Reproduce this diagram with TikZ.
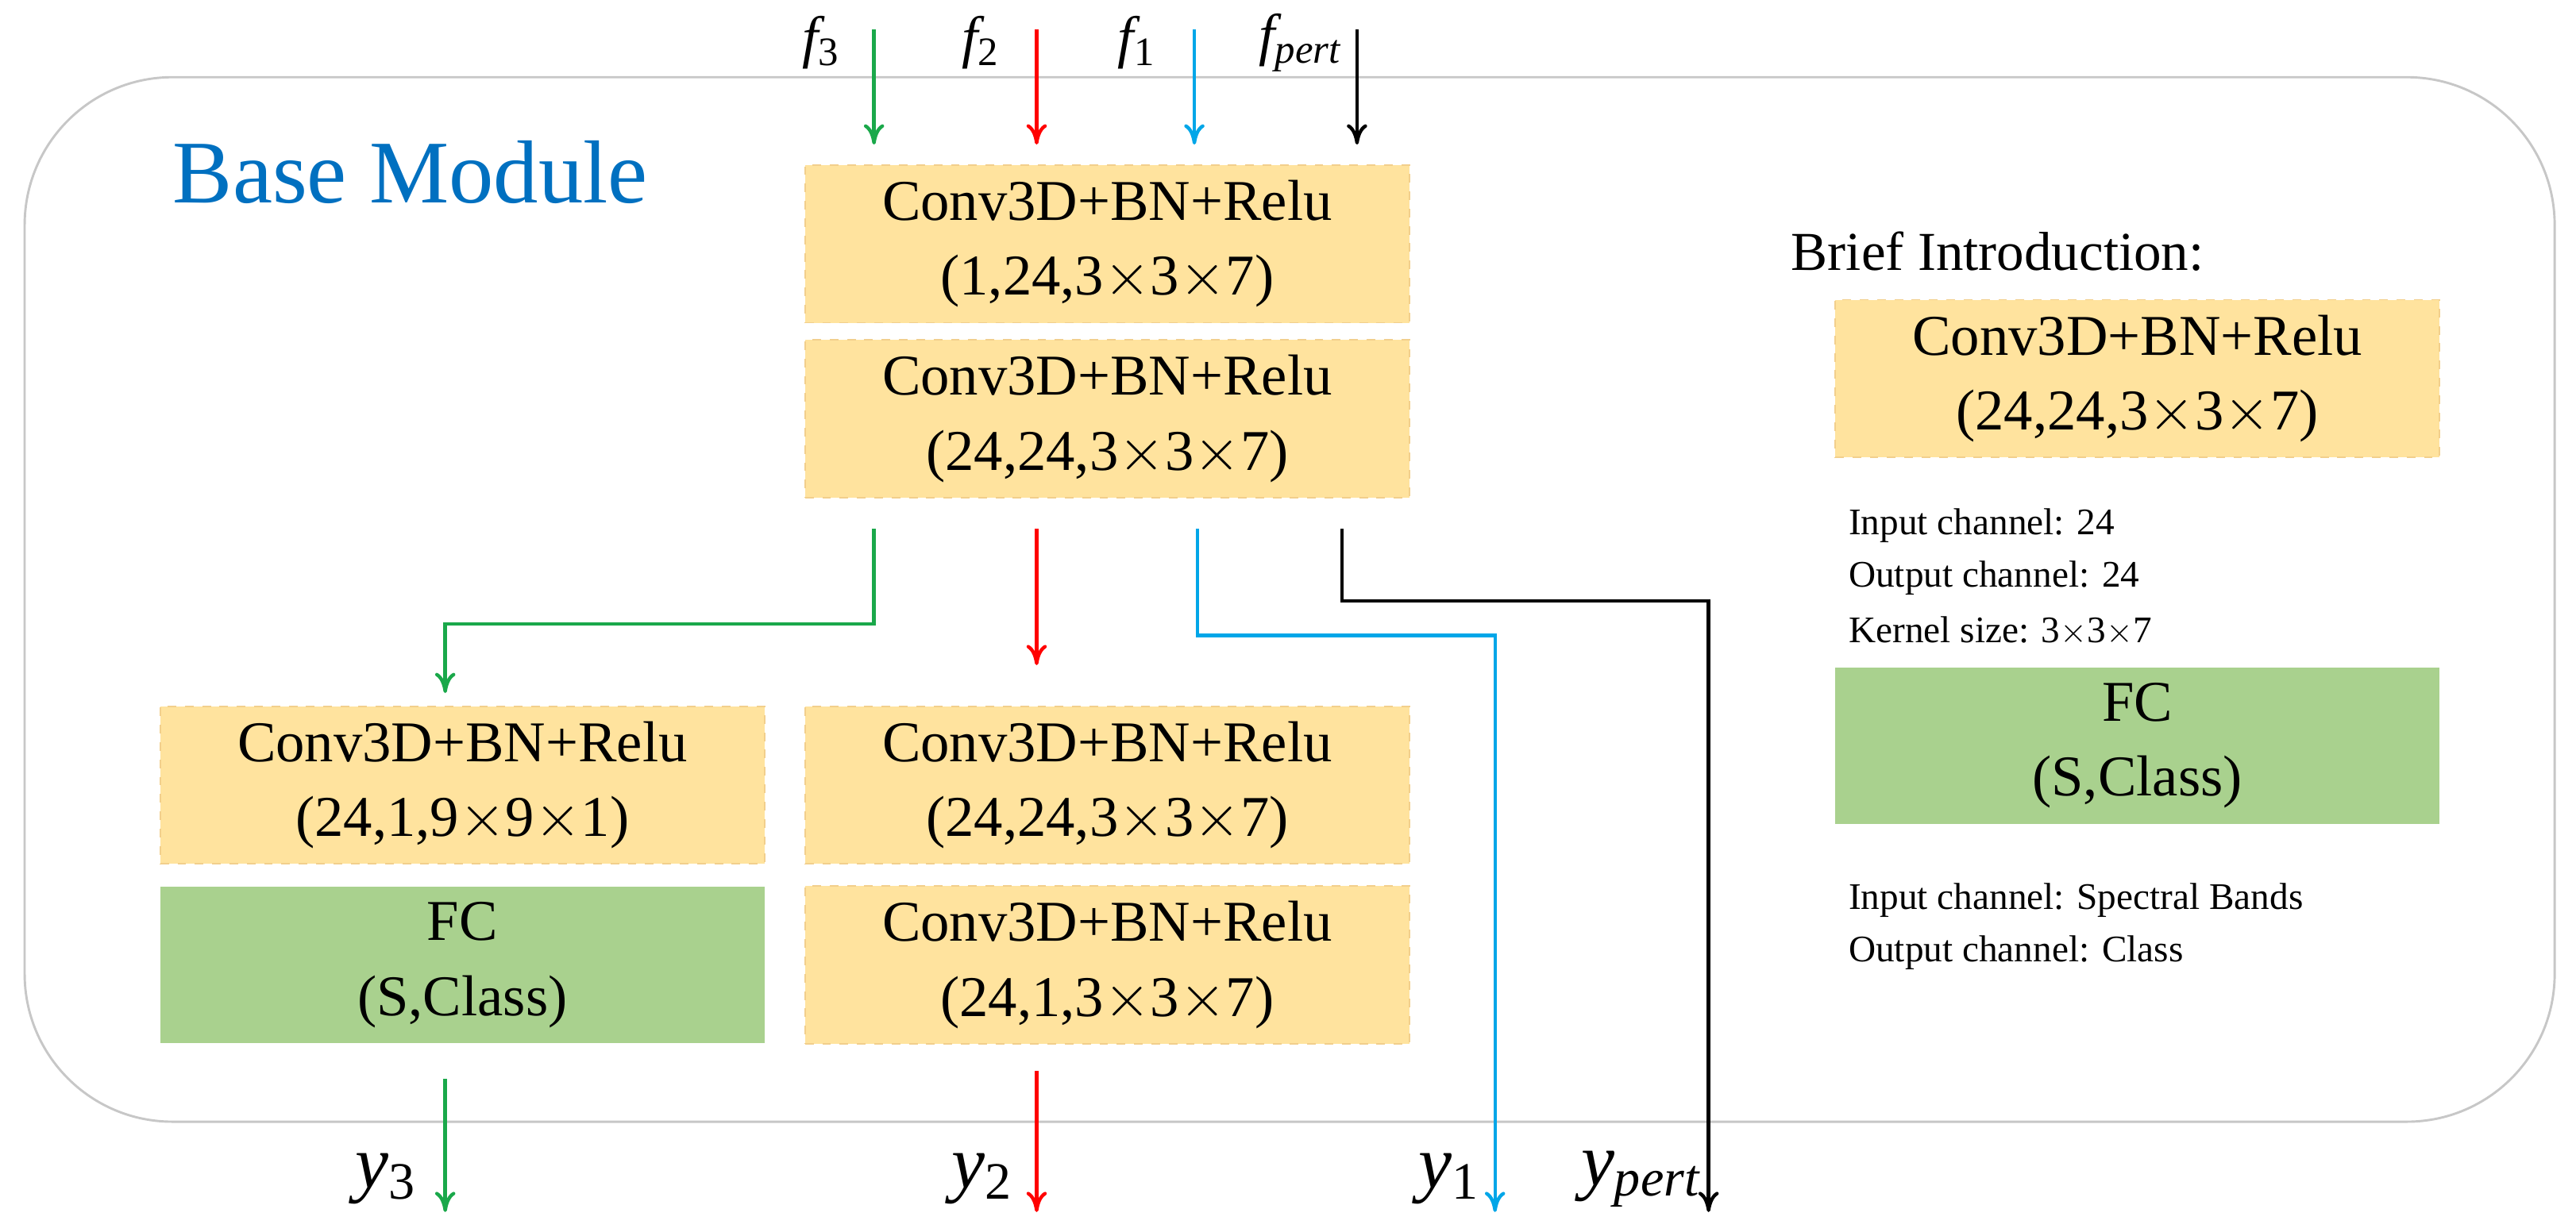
\documentclass[tikz,border=0pt]{standalone}
\usepackage{fontspec}
\setmainfont{Liberation Serif}
\usetikzlibrary{arrows.meta}
\definecolor{ybox}{HTML}{FFE39E}
\definecolor{ybord}{HTML}{F2CF8C}
\definecolor{gbox}{HTML}{A9D18E}
\definecolor{cg}{HTML}{1AA84A}
\definecolor{cr}{HTML}{FF0000}
\definecolor{cb}{HTML}{00A6E8}
\definecolor{tb}{HTML}{0070C0}
\begin{document}
\begin{tikzpicture}[x=0.02cm,y=-0.02cm,
  yb/.style={fill=ybox,draw=ybord,dashed,line width=0.5pt,minimum width=368*0.02cm,minimum height=96*0.02cm,align=center,font=\fontsize{20}{26}\selectfont,inner sep=0pt},
  gb/.style={fill=gbox,draw=none,minimum width=368*0.02cm,minimum height=95*0.02cm,align=center,font=\fontsize{20}{26}\selectfont,inner sep=0pt},
  ar/.style={line width=1.2pt,-{To[length=7pt,width=7pt]}},
  sm/.style={anchor=west,font=\fontsize{13}{15}\selectfont,inner sep=0pt},
  fl/.style={font=\fontsize{20}{24}\selectfont\itshape,inner sep=0pt},
  yl/.style={font=\fontsize{26}{30}\selectfont\itshape,inner sep=0pt}]
\useasboundingbox (0,0) rectangle (1568,750);
\draw[draw=black!22,line width=0.8pt,rounded corners=90*0.02cm] (15,47) rectangle (1555,683);
\node[anchor=west,text=tb,font=\fontsize{31}{36}\selectfont,inner sep=0pt] (title) at (105,105) {Base Module};
\node[yb] (b1) at (674,148.5) {Conv3D+BN+Relu\\(1,24,3$\times$3$\times$7)};
\node[yb] (b2) at (674,255) {Conv3D+BN+Relu\\(24,24,3$\times$3$\times$7)};
\node[yb] (b3) at (281.5,478) {Conv3D+BN+Relu\\(24,1,9$\times$9$\times$1)};
\node[gb] (fc1) at (281.5,587.5) {FC\\(S,Class)};
\node[yb] (b4) at (674,478) {Conv3D+BN+Relu\\(24,24,3$\times$3$\times$7)};
\node[yb] (b5) at (674,587.5) {Conv3D+BN+Relu\\(24,1,3$\times$3$\times$7)};
\node[anchor=west,font=\fontsize{19}{22}\selectfont,inner sep=0pt] (bi) at (1090,153) {Brief Introduction:};
\node[yb] (rb) at (1301,230.5) {Conv3D+BN+Relu\\(24,24,3$\times$3$\times$7)};
\node[sm] (t1) at (1125,320) {Input channel: 24};
\node[sm] (t2) at (1125,352) {Output channel: 24};
\node[sm] (t3) at (1125,384) {Kernel size: 3$\times$3$\times$7};
\node[gb] (rfc) at (1301,454) {FC\\(S,Class)};
\node[sm] (t4) at (1125,548) {Input channel: Spectral Bands};
\node[sm] (t5) at (1125,580) {Output channel: Class};
% inputs
\coordinate (i3) at (532,18); \coordinate (e3) at (532,88);
\coordinate (i2) at (631,18); \coordinate (e2) at (631,88);
\coordinate (i1) at (727,18); \coordinate (e1) at (727,88);
\coordinate (ip) at (826,18); \coordinate (ep) at (826,88);
\draw[ar,cg] (i3) -- (e3);
\draw[ar,cr] (i2) -- (e2);
\draw[ar,cb] (i1) -- (e1);
\draw[ar,black] (ip) -- (ep);
\node[fl] (lf3) at (500,26) {f\textsubscript{\upshape 3}};
\node[fl] (lf2) at (597,26) {f\textsubscript{\upshape 2}};
\node[fl] (lf1) at (692,26) {f\textsubscript{\upshape 1}};
\node[fl,anchor=west] (lfp) at (766,26) {f\textsubscript{pert}};
% middle
\coordinate (s3) at (532,322); \coordinate (d3) at (271,422);
\coordinate (s2) at (631,322); \coordinate (d2) at (631,405);
\coordinate (s1) at (729,322); \coordinate (d1) at (910,738);
\coordinate (sp) at (817,322); \coordinate (dp) at (1040,738);
\draw[ar,cg] (s3) -- (532,380) -| (d3);
\draw[ar,cr] (s2) -- (d2);
\draw[ar,cb] (s1) -- (729,387) -| (d1);
\draw[ar,black] (sp) -- (817,366) -| (dp);
% outputs
\coordinate (o3) at (271,657); \coordinate (q3) at (271,738);
\coordinate (o2) at (631,652); \coordinate (q2) at (631,738);
\draw[ar,cg] (o3) -- (q3);
\draw[ar,cr] (o2) -- (q2);
\node[yl] (ly3) at (235,718) {y\textsubscript{\upshape 3}};
\node[yl] (ly2) at (598,718) {y\textsubscript{\upshape 2}};
\node[yl] (ly1) at (882,718) {y\textsubscript{\upshape 1}};
\node[yl,anchor=west] (lyp) at (962,718) {y\textsubscript{pert}};
\end{tikzpicture}
\end{document}
